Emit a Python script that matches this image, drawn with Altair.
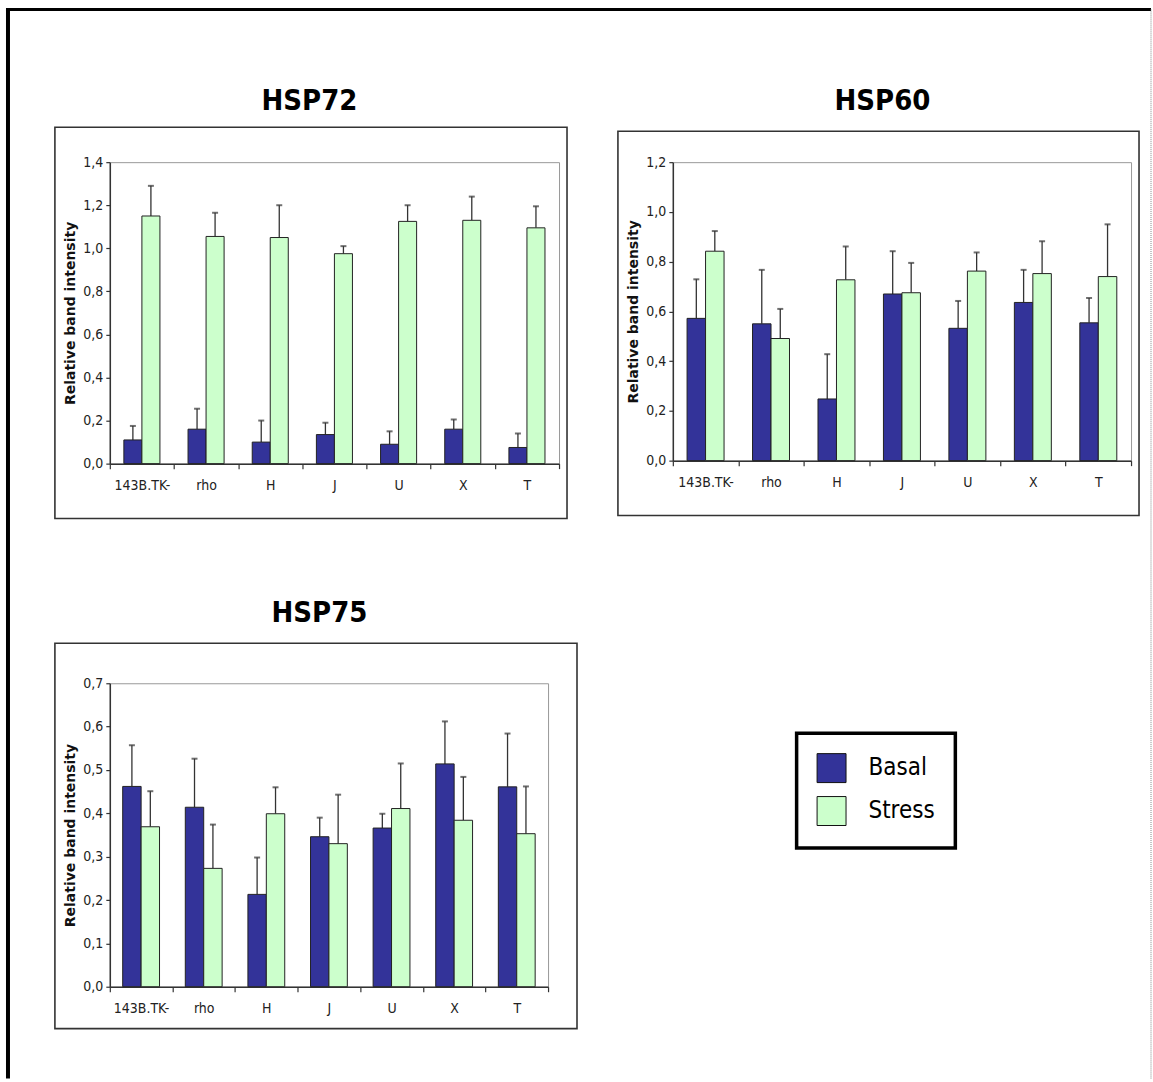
import altair as alt
import pandas as pd

categories = ["143B.TK-", "rho", "H", "J", "U", "X", "T"]
groups = ["Basal", "Stress"]
colors = ["#333399", "#CCFFCC"]

# HSP72
hsp72_basal = [0.11, 0.16, 0.10, 0.135, 0.09, 0.16, 0.075]
hsp72_basal_sd = [0.065, 0.095, 0.10, 0.055, 0.06, 0.045, 0.065]
hsp72_stress = [1.15, 1.055, 1.05, 0.975, 1.125, 1.13, 1.095]
hsp72_stress_sd = [0.14, 0.11, 0.15, 0.035, 0.075, 0.11, 0.10]
hsp72_ticks = [0.0, 0.2, 0.4, 0.6, 0.8, 1.0, 1.2, 1.4]

# HSP60
hsp60_basal = [0.572, 0.55, 0.248, 0.67, 0.532, 0.636, 0.554]
hsp60_basal_sd = [0.157, 0.217, 0.18, 0.172, 0.11, 0.131, 0.10]
hsp60_stress = [0.842, 0.491, 0.727, 0.675, 0.762, 0.752, 0.74]
hsp60_stress_sd = [0.081, 0.119, 0.134, 0.12, 0.075, 0.13, 0.21]
hsp60_ticks = [0.0, 0.2, 0.4, 0.6, 0.8, 1.0, 1.2]

# HSP75
hsp75_basal = [0.462, 0.414, 0.213, 0.346, 0.366, 0.514, 0.461]
hsp75_basal_sd = [0.095, 0.112, 0.085, 0.044, 0.033, 0.098, 0.123]
hsp75_stress = [0.369, 0.273, 0.399, 0.330, 0.411, 0.384, 0.353]
hsp75_stress_sd = [0.082, 0.101, 0.061, 0.113, 0.104, 0.10, 0.109]
hsp75_ticks = [0.0, 0.1, 0.2, 0.3, 0.4, 0.5, 0.6, 0.7]

COND = "DejaVu Sans Condensed, Liberation Sans, sans-serif"
YTITLE = "Relative band intensity"


def make_df(basal, basal_sd, stress, stress_sd):
    rows = []
    for i, c in enumerate(categories):
        rows.append({"cell": c, "cond": "Basal", "mean": basal[i], "top": basal[i] + basal_sd[i]})
        rows.append({"cell": c, "cond": "Stress", "mean": stress[i], "top": stress[i] + stress_sd[i]})
    return pd.DataFrame(rows)


one = pd.DataFrame({"k": [0]})


def deco_rule(x, x2, y, y2, color, width, dash=None):
    kw = dict(color=color, strokeWidth=width)
    if dash:
        kw["strokeDash"] = dash
    return alt.Chart(one).mark_rule(**kw).encode(
        x=alt.value(x), x2=alt.value(x2), y=alt.value(y), y2=alt.value(y2)
    )


def panel(df, title, ticks, w, h, pad_outer, title_xy, box, extra=None):
    ymax = ticks[-1]
    x = alt.X(
        "cell:N", sort=categories, title=None,
        scale=alt.Scale(paddingInner=0, paddingOuter=0),
        axis=alt.Axis(
            tickBand="extent", labelAngle=0, tickSize=5, labelPadding=10,
            labelFontSize=14, labelFont=COND, labelColor="#222",
            domainColor="#333", domainWidth=1.5, tickColor="#333", tickWidth=1.2,
            grid=False,
        ),
    )
    xo = alt.XOffset("cond:N", sort=groups,
                     scale=alt.Scale(paddingOuter=pad_outer, paddingInner=0))
    yaxis = alt.Axis(
        values=ticks,
        labelExpr="replace(format(datum.value, '.1f'), '.', ',')",
        tickSize=4, labelPadding=3, labelFontSize=14, labelFont=COND,
        labelColor="#222", domainColor="#333", domainWidth=1.5, tickColor="#333",
        tickWidth=1.2, grid=False, titleFont="DejaVu Sans", titleFontWeight="bold",
        titleFontSize=14, titlePadding=5, titleColor="#111",
    )
    yscale = alt.Scale(domain=[0, ymax], nice=False)
    base = alt.Chart(df)
    bars = base.mark_bar(stroke="#222", strokeWidth=1).encode(
        x=x, xOffset=xo,
        y=alt.Y("mean:Q", scale=yscale, axis=yaxis, title=YTITLE),
        color=alt.Color(
            "cond:N", sort=groups,
            scale=alt.Scale(domain=groups, range=colors),
            legend=alt.Legend(
                title=None, orient="none", legendX=688, legendY=572,
                symbolType="square", symbolSize=841, symbolStrokeColor="#111",
                symbolStrokeWidth=1, labelFontSize=24, labelFont=COND,
                labelColor="#000", labelOffset=22, rowPadding=9, padding=20,
                strokeColor="#000",
            ),
        ),
    )
    err = base.mark_rule(color="#333", strokeWidth=1.3).encode(
        x=x, xOffset=xo,
        y=alt.Y("mean:Q", scale=yscale, title=YTITLE),
        y2="top:Q",
    )
    caps = base.mark_tick(color="#333", thickness=2, size=6).encode(
        x=x, xOffset=xo,
        y=alt.Y("top:Q", scale=yscale, title=YTITLE),
    )
    boxrect = alt.Chart(one).mark_rect(fillOpacity=0, stroke="#333", strokeWidth=1.6).encode(
        x=alt.value(box[0]), x2=alt.value(box[1]), y=alt.value(box[2]), y2=alt.value(box[3])
    )
    ttl = alt.Chart(one).mark_text(
        text=title, font=COND, fontSize=29, fontWeight="bold", color="#000",
        align="center", baseline="alphabetic",
    ).encode(x=alt.value(title_xy[0]), y=alt.value(title_xy[1]))
    layers = [boxrect, ttl, err, caps, bars]
    if extra:
        layers = extra + layers
    return alt.layer(*layers).properties(width=w, height=h)


outer = [
    deco_rule(-102, -102, -153, 918, "#000", 4),
    deco_rule(-104, 1043, -153, -153, "#000", 3),
    deco_rule(1043, 1043, -153, 918, "#888", 1, [1, 1]),
]

A = panel(make_df(hsp72_basal, hsp72_basal_sd, hsp72_stress, hsp72_stress_sd),
          "HSP72", hsp72_ticks, 450, 302, 0.78, (200, -52), (-55, 458, -35, 357), extra=outer)
B = panel(make_df(hsp60_basal, hsp60_basal_sd, hsp60_stress, hsp60_stress_sd),
          "HSP60", hsp60_ticks, 459, 299, 0.77, (210, -52), (-55, 467, -31, 354))
C = panel(make_df(hsp75_basal, hsp75_basal_sd, hsp75_stress, hsp75_stress_sd),
          "HSP75", hsp75_ticks, 439, 304, 0.70, (210, -61), (-55, 468, -40, 346))

chart = alt.concat(
    A, B, C, columns=2, spacing={"row": 218, "column": 105}, bounds="flush", align="all"
).resolve_scale(
    x="independent", y="independent", xOffset="independent", color="shared"
).properties(
    padding={"left": 4, "top": 5.5, "right": 0, "bottom": 0},
    background="white",
).configure_view(stroke="#999", strokeWidth=1).configure_legend(strokeWidth=3.5)

chart.save("out.html", embed_options={"renderer": "svg", "actions": False})
